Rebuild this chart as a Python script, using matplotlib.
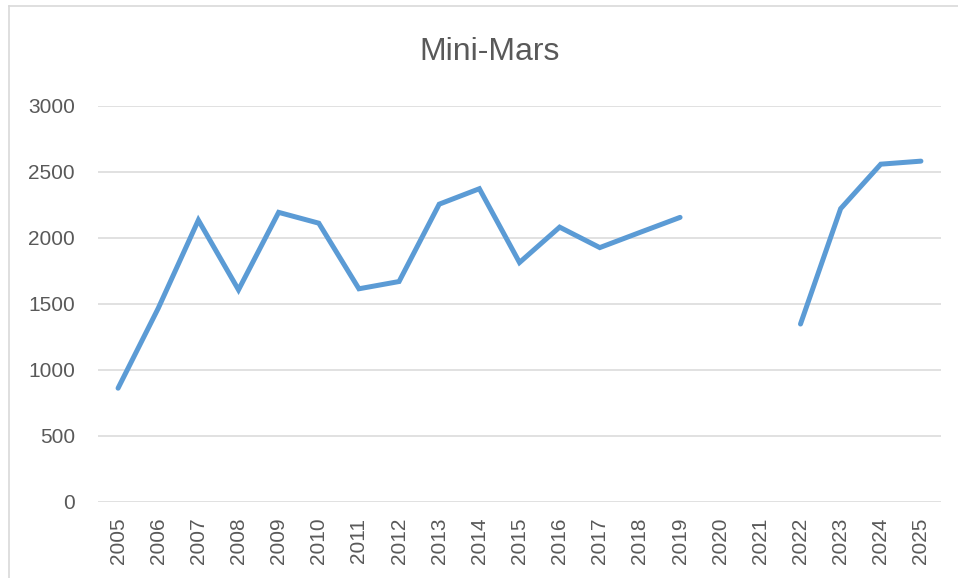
import numpy as np
import matplotlib
matplotlib.use('Agg')
import matplotlib.pyplot as plt
from matplotlib.lines import Line2D

# 数据
years = [str(y) for y in range(2005, 2026)]
values = [860, 1465, 2133, 1605, 2192, 2110, 1613, 1668, 2254, 2371,
          1812, 2080, 1925, 2040, 2154, np.nan, np.nan, 1346, 2220, 2557, 2580]
yticks = [0, 500, 1000, 1500, 2000, 2500, 3000]

plt.rcParams['font.family'] = ['Liberation Sans', 'DejaVu Sans']

W, H = 958, 578
fig = plt.figure(figsize=(W / 100, H / 100), dpi=100)
ax = fig.add_axes([98 / W, 1 - 501.7 / H, (941 - 98) / W, (501.7 - 105.7) / H])

x = np.arange(len(years))
ax.plot(x, values, color='#5B9BD5', lw=3.6, solid_capstyle='round',
        solid_joinstyle='miter', zorder=3)

ax.set_xlim(-0.5, len(years) - 0.5)
ax.set_ylim(0, 3000)
ax.set_yticks(yticks)
ax.set_xticks(x)
ax.set_xticklabels(years, rotation=90)
ax.grid(axis='y', color='#D9D9D9', lw=1.1)
ax.set_axisbelow(True)
for s in ax.spines.values():
    s.set_visible(False)
ax.tick_params(length=0, labelsize=15, colors='#595959')
ax.tick_params(axis='y', pad=16.5)
ax.tick_params(axis='x', pad=11.5)

fig.text(490 / W, 1 - 52 / H, 'Mini-Mars', ha='center', va='center',
         fontsize=23, color='#595959')

# 外框
fig.add_artist(Line2D([9 / W, 9 / W], [0, 1 - 6 / H], color='#D9D9D9', lw=1.2))
fig.add_artist(Line2D([9 / W, 1], [1 - 6 / H, 1 - 6 / H], color='#D9D9D9', lw=1.2))

fig.savefig('out.png', dpi=100)
